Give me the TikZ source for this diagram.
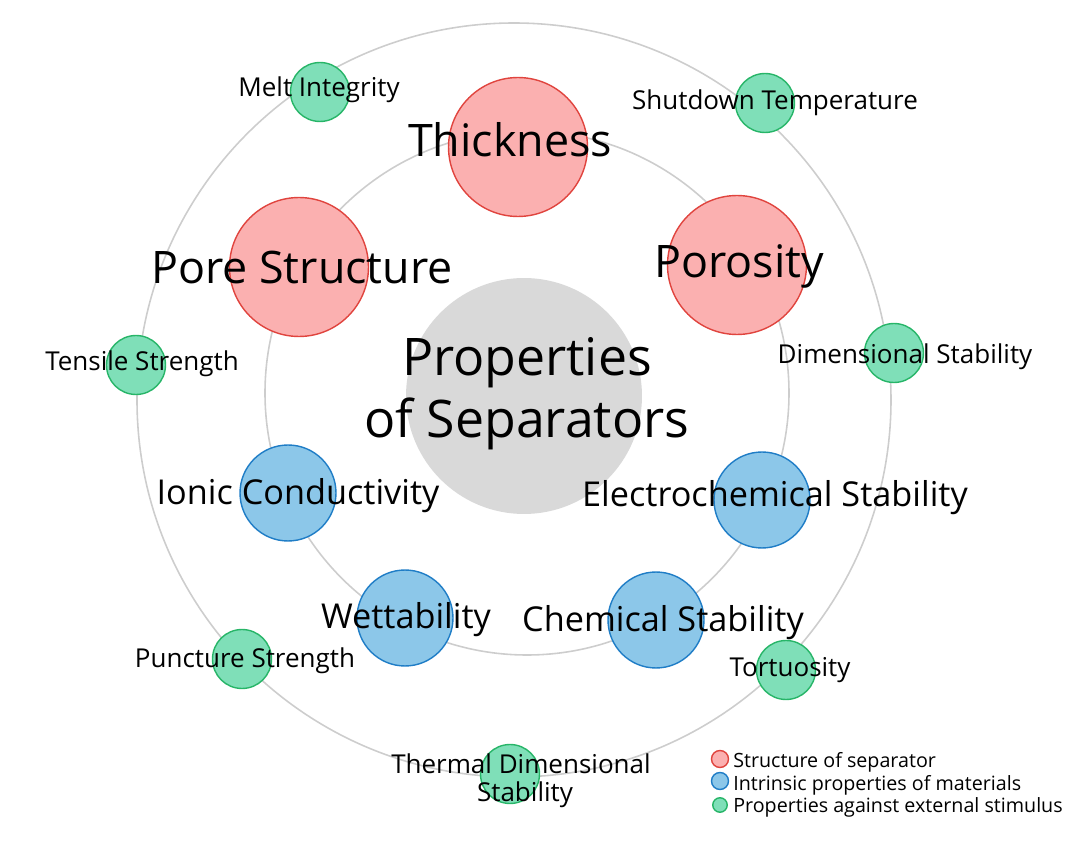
\documentclass[tikz,border=0pt]{standalone}
\usepackage{fontspec}
\setmainfont{Open Sans}
\usepackage{tikz}

\definecolor{ringgray}{HTML}{CDCDCD}
\definecolor{coregray}{HTML}{D9D9D9}
\definecolor{redfill}{HTML}{FBB0B0}
\definecolor{redline}{HTML}{E0443E}
\definecolor{bluefill}{HTML}{8CC7E9}
\definecolor{blueline}{HTML}{1F7DC6}
\definecolor{greenfill}{HTML}{7FDFB8}
\definecolor{greenline}{HTML}{27B568}

\begin{document}
\begin{tikzpicture}[x=0.02cm,y=-0.02cm,
  ring/.style={draw=ringgray, line width=0.9pt},
  structure/.style={circle, draw=redline, fill=redfill, line width=0.8pt, inner sep=0pt, minimum size=2.78cm},
  intrinsic/.style={circle, draw=blueline, fill=bluefill, line width=0.8pt, inner sep=0pt, minimum size=1.92cm},
  stimulus/.style={circle, draw=greenline, fill=greenfill, line width=0.8pt, inner sep=0pt, minimum size=1.18cm},
  coretext/.style={anchor=base, inner sep=0pt, font=\fontsize{29.5}{34}\selectfont},
  bigtext/.style={anchor=base, inner sep=0pt, font=\fontsize{25.5}{30}\selectfont},
  midtext/.style={anchor=base, inner sep=0pt, font=\fontsize{19.5}{23}\selectfont},
  smalltext/.style={anchor=base, inner sep=0pt, font=\fontsize{14.8}{18}\selectfont},
  legtext/.style={anchor=base west, inner sep=0pt, font=\fontsize{11.2}{13}\selectfont}]
\useasboundingbox (0,0) rectangle (1080,841);

\draw [ring] (514,400) circle [radius=377];
\draw [ring] (527,393) circle [radius=262];
\node [circle, fill=coregray, inner sep=0pt, minimum size=4.72cm] (core) at (524,396) {};

\node [structure] (thick) at (518,147) {};
\node [structure] (pore) at (299,267) {};
\node [structure] (poros) at (737,265) {};

\node [intrinsic] (ionic) at (288,493) {};
\node [intrinsic] (echem) at (762,500) {};
\node [intrinsic] (wet) at (405,618) {};
\node [intrinsic] (chem) at (656,620) {};

\node [stimulus] (melt) at (320,92) {};
\node [stimulus] (shut) at (765,103) {};
\node [stimulus] (tensile) at (136,365) {};
\node [stimulus] (dimen) at (894,353) {};
\node [stimulus] (punct) at (242,659) {};
\node [stimulus] (tort) at (786,670) {};
\node [stimulus] (thermal) at (510,774) {};

\node [coretext] (core-a) at (527,376) {Properties};
\node [coretext] (core-b) at (527,438) {of Separators};
\node [bigtext] (thick-t) at (510,157) {Thickness};
\node [bigtext] (pore-t) at (302,284) {Pore Structure};
\node [bigtext] (poros-t) at (739,278) {Porosity};

\node [midtext] (ionic-t) at (298,505) {Ionic Conductivity};
\node [midtext] (echem-t) at (775,507) {Electrochemical Stability};
\node [midtext] (wet-t) at (406,629) {Wettability};
\node [midtext] (chem-t) at (663,632) {Chemical Stability};

\node [smalltext] (melt-t) at (319,97) {Melt Integrity};
\node [smalltext] (shut-t) at (775,110) {Shutdown Temperature};
\node [smalltext] (tensile-t) at (142,371) {Tensile Strength};
\node [smalltext] (dimen-t) at (905,364) {Dimensional Stability};
\node [smalltext] (punct-t) at (245,667) {Puncture Strength};
\node [smalltext] (tort-t) at (790,677) {Tortuosity};
\node [smalltext] (thermal-a) at (521,773) {Thermal Dimensional};
\node [smalltext] (thermal-b) at (525,802) {Stability};

\node [circle, draw=redline, fill=redfill, line width=0.8pt, inner sep=0pt, minimum size=0.34cm] (leg-red) at (720,759) {};
\node [circle, draw=blueline, fill=bluefill, line width=0.8pt, inner sep=0pt, minimum size=0.34cm] (leg-blue) at (720,781) {};
\node [circle, draw=greenline, fill=greenfill, line width=0.8pt, inner sep=0pt, minimum size=0.29cm] (leg-green) at (720,805) {};
\node [legtext] (leg-red-t) at (733,767) {Structure of separator};
\node [legtext] (leg-blue-t) at (733,790) {Intrinsic properties of materials};
\node [legtext] (leg-green-t) at (733,812) {Properties against external stimulus};
\end{tikzpicture}
\end{document}
